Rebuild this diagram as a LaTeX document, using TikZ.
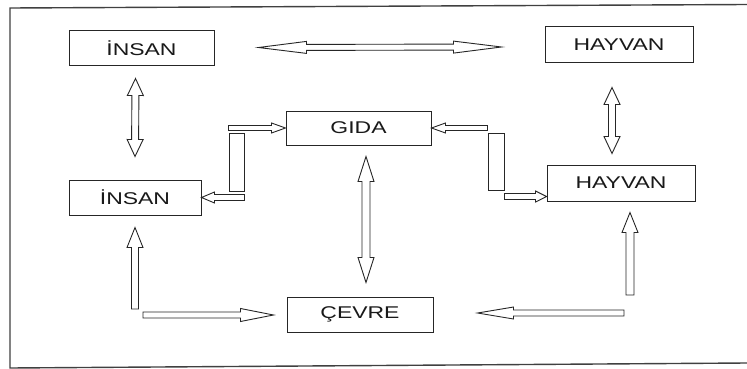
\documentclass[tikz,border=0pt]{standalone}
\usepackage{fontspec}
\setmainfont{Liberation Sans}
\newfontfamily\lblfont[FakeStretch=1.35]{Liberation Sans}
\usetikzlibrary{calc}
\begin{document}
\begin{tikzpicture}[x=1pt,y=-1pt,
  line col/.style={draw=black!85},
  box/.style={line col, line width=1pt, minimum width=#1, minimum height=35pt, inner sep=0pt,
    font=\lblfont\fontsize{17}{17}\selectfont, text=black!90},
  barbox/.style={line col, line width=1pt, inner sep=0pt},
  sarrow/.style n args={3}{line col, line width=0.9pt, fill=white, line join=miter,
    to path={let \p1=(\tikztostart), \p2=(\tikztotarget),
      \n1={veclen(\x2-\x1,\y2-\y1)}, \n2={(\x2-\x1)/\n1}, \n3={(\y2-\y1)/\n1} in
      ({\x1-(\n3)*#1},{\y1+(\n2)*#1})
      -- ({\x2-(\n2)*#3-(\n3)*#1},{\y2-(\n3)*#3+(\n2)*#1})
      -- ({\x2-(\n2)*#3-(\n3)*#2},{\y2-(\n3)*#3+(\n2)*#2})
      -- (\p2)
      -- ({\x2-(\n2)*#3+(\n3)*#2},{\y2-(\n3)*#3-(\n2)*#2})
      -- ({\x2-(\n2)*#3+(\n3)*#1},{\y2-(\n3)*#3-(\n2)*#1})
      -- ({\x1+(\n3)*#1},{\y1-(\n2)*#1}) -- cycle}},
  darrow/.style n args={3}{line col, line width=0.9pt, fill=white, line join=miter,
    to path={let \p1=(\tikztostart), \p2=(\tikztotarget),
      \n1={veclen(\x2-\x1,\y2-\y1)}, \n2={(\x2-\x1)/\n1}, \n3={(\y2-\y1)/\n1} in
      (\p1)
      -- ({\x1+(\n2)*#3-(\n3)*#2},{\y1+(\n3)*#3+(\n2)*#2})
      -- ({\x1+(\n2)*#3-(\n3)*#1},{\y1+(\n3)*#3+(\n2)*#1})
      -- ({\x2-(\n2)*#3-(\n3)*#1},{\y2-(\n3)*#3+(\n2)*#1})
      -- ({\x2-(\n2)*#3-(\n3)*#2},{\y2-(\n3)*#3+(\n2)*#2})
      -- (\p2)
      -- ({\x2-(\n2)*#3+(\n3)*#2},{\y2-(\n3)*#3-(\n2)*#2})
      -- ({\x2-(\n2)*#3+(\n3)*#1},{\y2-(\n3)*#3-(\n2)*#1})
      -- ({\x1+(\n2)*#3+(\n3)*#1},{\y1+(\n3)*#3-(\n2)*#1})
      -- ({\x1+(\n2)*#3+(\n3)*#2},{\y1+(\n3)*#3-(\n2)*#2})
      -- cycle}}
]
\useasboundingbox (0,0) rectangle (747,369);
\fill[white] (0,0) rectangle (747,369);
% frame
\draw[black!75, line width=1.4pt] (747,4.5) -- (10,8) -- (10,368) -- (747,363);

% boxes
\node[box=145pt] (insanA) at (141.5,48.5) {İNSAN};
\node[box=148pt, minimum height=36pt] (hayvanA) at (619,45) {HAYVAN};
\node[box=145pt, minimum height=34pt] (gida) at (358.5,128) {GIDA};
\node[box=132pt] (insanB) at (135,197.5) {İNSAN};
\node[box=148pt, minimum height=36pt] (hayvanB) at (621,183) {HAYVAN};
\node[box=146pt] (cevre) at (360,314.5) {ÇEVRE};
\node[barbox, minimum width=15pt, minimum height=58pt] (lbar) at (236.5,162) {};
\node[barbox, minimum width=16pt, minimum height=57pt] (rbar) at (496,161.5) {};

% free ends
\coordinate (c1) at (135,309);
\coordinate (c2) at (143,315);
\coordinate (c3) at (630,295);
\coordinate (c4) at (624,313);
\coordinate (rb) at ($(hayvanB.south west)+(0,-5)$);

% connectors
\draw[darrow={3pt}{6pt}{48pt}] ($(insanA.east)+(44,-1)$) to ($(hayvanA.west)+(-43,2)$);
\draw[darrow={3.5pt}{8pt}{17pt}] ($(insanA.south)+(-6,12)$) to ($(insanB.north)+(0,-23)$);
\draw[darrow={3.5pt}{8pt}{17pt}] ($(hayvanA.south)+(-7,24)$) to ($(hayvanB.north)+(-9,-11)$);
\draw[darrow={4pt}{8pt}{25pt}] ($(gida.south)+(7.5,11)$) to ($(cevre.north)+(6,-14)$);
\draw[sarrow={3.5pt}{8pt}{20pt}] (c1) to ($(insanB.south)+(0,12)$);
\draw[sarrow={3pt}{6.5pt}{33pt}] (c2) to ($(cevre.west)+(-13,0.5)$);
\draw[sarrow={4pt}{8pt}{20pt}] (c3) to ($(hayvanB.south)+(9,11)$);
\draw[sarrow={3pt}{6pt}{36pt}] (c4) to ($(cevre.east)+(44,-1.5)$);
\draw[sarrow={2.5pt}{5pt}{14pt}] (lbar.west |- gida.west) to (gida.west);
\draw[sarrow={3pt}{5.5pt}{13pt}] (lbar.east |- insanB.east) to (insanB.east);
\draw[sarrow={2.5pt}{5pt}{14pt}] (rbar.west |- gida.east) to (gida.east);
\draw[sarrow={3pt}{5.5pt}{11pt}] (rbar.east |- rb) to (rb);
\end{tikzpicture}
\end{document}
